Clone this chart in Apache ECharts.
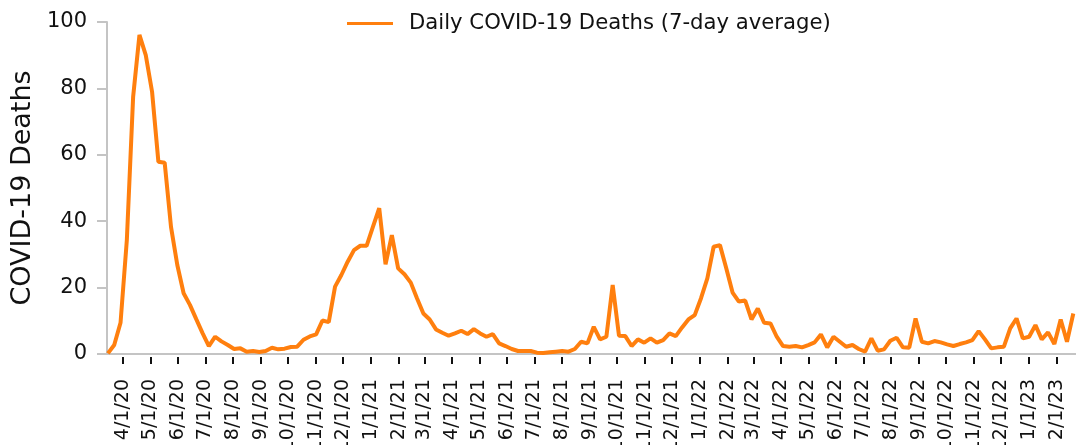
<!DOCTYPE html>
<html>
<head>
<meta charset="utf-8">
<script src="https://cdn.jsdelivr.net/npm/echarts@6/dist/echarts.min.js"></script>
<style>
html,body{margin:0;padding:0;background:#fff;}
#chart{width:1076px;height:445px;}
</style>
</head>
<body>
<div id="chart"></div>
<script>
// Weekly observations, first week starting 2020-03-15
const startDate = '2020-03-15';
const weekStepDays = 7;
const seriesName = 'Daily COVID-19 Deaths (7-day average)';
const yAxisName = 'COVID-19 Deaths';
const deaths = [
  0.2, 2.7, 9.4, 34.3, 77.5, 96.1, 90, 79, 57.9, 57.6,
  38.3, 26.8, 18.3, 14.8, 10.5, 6.3, 2.4, 5.2, 3.8, 2.7,
  1.5, 1.7, 0.7, 0.9, 0.6, 0.9, 1.9, 1.4, 1.6, 2.1,
  2.2, 4.3, 5.3, 5.9, 10.1, 9.6, 20.3, 23.8, 27.8, 31.3,
  32.6, 32.6, 38.3, 43.9, 27, 35.8, 25.8, 24, 21.5, 16.7,
  12.2, 10.4, 7.4, 6.4, 5.5, 6.2, 7.0, 6.0, 7.5, 6.2,
  5.2, 6.0, 3.2, 2.4, 1.5, 0.9, 0.9, 0.9, 0.4, 0.3,
  0.5, 0.7, 0.9, 0.7, 1.5, 3.7, 3.2, 8.2, 4.4, 5.2,
  20.8, 5.5, 5.4, 2.4, 4.4, 3.4, 4.7, 3.4, 4.2, 6.2,
  5.4, 8.0, 10.4, 11.7, 16.8, 22.8, 32.3, 32.8, 25.8, 18.5,
  15.8, 16.1, 10.4, 13.7, 9.4, 9.2, 5.2, 2.4, 2.2, 2.4,
  2.0, 2.7, 3.5, 5.9, 2.0, 5.2, 3.7, 2.2, 2.7, 1.5,
  0.7, 4.7, 1.0, 1.4, 4.0, 4.9, 2.0, 1.9, 10.7, 3.7,
  3.2, 3.9, 3.5, 2.9, 2.4, 3.0, 3.5, 4.2, 6.9, 4.4,
  1.7, 2.0, 2.2, 7.7, 10.7, 4.7, 5.2, 8.7, 4.4, 6.5,
  3.0, 10.4, 3.7, 12.2
];
const yTicks = [0, 20, 40, 60, 80, 100];
const xMin = '2020-03-14';
const xMax = '2023-02-22';

const DAY = 86400000;
const t0 = Date.UTC(2020, 2, 15);
const points = deaths.map((v, i) => [t0 + i * weekStepDays * DAY, v]);

const FONT = 'DejaVu Sans';
const chart = echarts.init(document.getElementById('chart'), null, {renderer: 'canvas'});
chart.setOption({
  animation: false,
  textStyle: {fontFamily: FONT},
  grid: {left: 107, right: 0, top: 22, bottom: 91, containLabel: false, outerBoundsMode: 'none'},
  legend: {
    data: [seriesName],
    left: 342,
    top: 8,
    icon: 'rect',
    itemWidth: 46,
    itemHeight: 3,
    textStyle: {fontFamily: FONT, fontSize: 21.2, color: '#111', padding: [0, 0, 0, 11]}
  },
  xAxis: [
    {
      type: 'time',
      min: xMin, max: xMax,
      axisLine: {show: true, lineStyle: {color: '#c4c4c4', width: 2}},
      axisTick: {show: false},
      axisLabel: {show: false},
      splitLine: {show: false}
    },
    {
      type: 'time',
      position: 'bottom',
      offset: 3,
      min: xMin, max: xMax,
      minInterval: 28 * DAY,
      maxInterval: 31 * DAY,
      axisLine: {show: false},
      axisTick: {show: true, length: 7, lineStyle: {color: '#111', width: 2}},
      axisLabel: {
        show: true, rotate: 90, fontSize: 19, color: '#111', fontFamily: FONT,
        margin: 22, interval: 0, hideOverlap: false,
        formatter: '{M}/{d}/{yy}'
      },
      splitLine: {show: false}
    }
  ],
  yAxis: {
    type: 'value',
    min: 0, max: 100, interval: 20,
    name: yAxisName,
    nameLocation: 'middle',
    nameRotate: 90,
    nameGap: 70,
    nameTextStyle: {fontFamily: FONT, fontSize: 27, color: '#111'},
    axisLine: {show: true, lineStyle: {color: '#c4c4c4', width: 2}},
    axisTick: {show: true, length: 10, lineStyle: {color: '#c4c4c4', width: 2}},
    axisLabel: {
      fontSize: 21, color: '#111', fontFamily: FONT, margin: 20,
      formatter: v => yTicks.includes(v) ? String(v) : ''
    },
    splitLine: {show: false}
  },
  series: [{
    name: seriesName,
    type: 'line',
    xAxisIndex: 0,
    data: points,
    showSymbol: false,
    symbol: 'none',
    lineStyle: {color: '#ff7f0e', width: 4},
    itemStyle: {color: '#ff7f0e'},
    clip: true
  }]
});
</script>
</body>
</html>
